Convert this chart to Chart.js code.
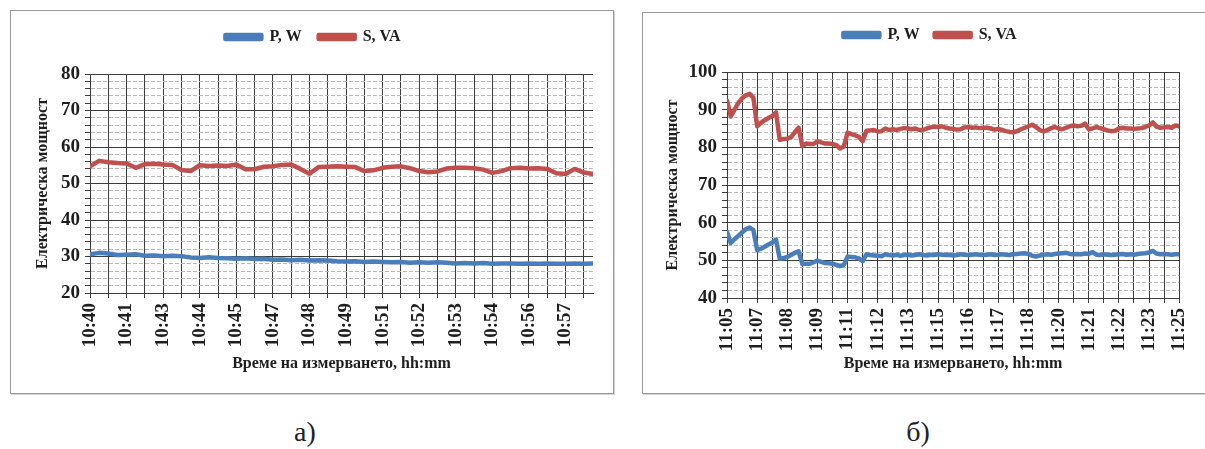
<!DOCTYPE html>
<html>
<head>
<meta charset="utf-8">
<script src="https://cdn.jsdelivr.net/npm/chart.js@4.4.1/dist/chart.umd.min.js"></script>
<style>
  body { margin: 0; width: 1205px; height: 449px; overflow: hidden; background: #fff; position: relative; }
  .frame { position: absolute; border: 1px solid #9a9a9a; box-shadow: 1px 1px 0 #d4d4d4; box-sizing: border-box; }
  canvas { position: absolute; }
  .cap { position: absolute; top: 416px; font-family: "Liberation Serif", serif; font-size: 28px; color: #222; width: 60px; text-align: center; }
</style>
</head>
<body>
<div class="frame" style="left:10px; top:10px; width:604px; height:384px;"></div>
<div class="frame" style="left:642px; top:12px; width:570px; height:382px;"></div>
<canvas id="chartA" width="603" height="383" style="left:10px; top:10px;"></canvas>
<canvas id="chartB" width="565" height="381" style="left:642px; top:12px;"></canvas>
<div class="cap" style="left:275px;">а)</div>
<div class="cap" style="left:888px;">б)</div>

<script>
// Етикети по оста X (всеки втори вертикален ред на мрежата)
const leftTimes = ['10:40', '10:41', '10:43', '10:44', '10:45', '10:47', '10:48',
    '10:49', '10:51', '10:52', '10:53', '10:54', '10:56', '10:57'];
const rightTimes = ['11:05', '11:07', '11:08', '11:09', '11:11', '11:12', '11:13', '11:15',
    '11:16', '11:17', '11:18', '11:20', '11:21', '11:22', '11:23', '11:25'];

// а) стъпка 0.5 деление
const leftStep = 0.5;
const leftS = [
    54.7, 56.2, 55.8, 55.6, 55.5, 54.3, 55.3, 55.4, 55.2, 55.1,
    53.7, 53.4, 55.0, 54.8, 54.9, 54.8, 55.2, 53.9, 53.9, 54.6,
    54.7, 55.1, 55.2, 54.0, 52.7, 54.5, 54.6, 54.7, 54.6, 54.5,
    53.4, 53.6, 54.3, 54.6, 54.7, 54.2, 53.4, 53.1, 53.3, 54.1,
    54.3, 54.3, 54.2, 53.8, 52.9, 53.4, 54.2, 54.3, 54.1, 54.2,
    54.0, 52.8, 52.6, 54.0, 53.0, 52.6
];
const leftP = [
    30.6, 31.0, 30.8, 30.4, 30.5, 30.6, 30.2, 30.3, 30.1, 30.2,
    30.1, 29.7, 29.6, 29.8, 29.6, 29.5, 29.4, 29.5, 29.3, 29.4,
    29.1, 29.2, 29.0, 29.1, 28.9, 29.0, 28.9, 28.7, 28.6, 28.7,
    28.5, 28.6, 28.5, 28.4, 28.5, 28.3, 28.4, 28.3, 28.4, 28.3,
    28.1, 28.2, 28.1, 28.2, 28.0, 28.1, 28.1, 28.0, 28.1, 28.0,
    28.1, 28.0, 28.0, 28.1, 28.0, 28.1
];

// б) стъпка 0.25 деление
const rightStep = 0.25;
const rightS = [
    92.4, 88.2, 90.0, 91.8,  93.0, 93.8, 94.2, 93.2,  85.6, 86.5, 87.2, 87.8,
    88.3, 89.3, 82.0, 82.2,  82.3, 82.7, 84.0, 85.2,  80.3, 81.0, 80.9, 80.9,
    81.6, 81.3, 81.0, 81.0,  80.9, 80.6, 79.7, 80.2,  83.9, 83.5, 83.2, 82.8,
    81.6, 84.4, 84.5, 84.6,  84.2, 84.3, 85.0, 84.6,  84.8, 84.6, 84.9, 85.1,
    85.0, 84.8, 85.0, 84.6,  84.6, 85.0, 85.3, 85.5,  85.4, 85.6, 85.2, 85.0,
    84.9, 84.7, 84.8, 85.3,  85.4, 85.2, 85.3, 85.1,  85.2, 85.2, 85.0, 84.7,
    84.9, 84.6, 84.3, 84.1,  84.0, 84.3, 84.8, 85.2,  85.6, 86.0, 85.4, 84.6,
    84.2, 84.6, 85.1, 85.4,  85.0, 84.8, 85.2, 85.6,  85.8, 85.6, 85.7, 86.3,
    84.8, 85.0, 85.4, 85.1,  84.8, 84.5, 84.3, 84.4,  85.0, 85.2, 85.0, 85.0,
    84.9, 85.0, 85.1, 85.4,  85.8, 86.6, 85.5, 85.2,  85.3, 85.4, 85.2, 85.8,
    85.6
];
const rightP = [
    57.5, 54.6, 55.6, 56.5,  57.4, 58.3, 58.7, 58.0,  52.7, 53.1, 53.6, 54.2,
    54.7, 55.5, 50.4, 50.6,  50.9, 51.4, 52.0, 52.4,  49.0, 49.1, 49.1, 49.5,
    49.9, 49.6, 49.3, 49.2,  49.1, 48.8, 48.5, 48.8,  51.0, 50.9, 50.8, 50.5,
    49.8, 51.6, 51.4, 51.3,  51.2, 51.1, 51.6, 51.4,  51.3, 51.5, 51.2, 51.4,
    51.5, 51.3, 51.4, 51.6,  51.4, 51.3, 51.5, 51.4,  51.6, 51.5, 51.4, 51.5,
    51.3, 51.4, 51.6, 51.5,  51.4, 51.5, 51.6, 51.5,  51.4, 51.5, 51.6, 51.4,
    51.5, 51.6, 51.5, 51.4,  51.6, 51.7, 51.8, 51.9,  51.7, 51.2, 51.0, 51.3,
    51.5, 51.6, 51.5, 51.7,  51.8, 51.9, 52.0, 51.7,  51.6, 51.7, 51.6, 51.8,
    51.7, 52.2, 51.5, 51.4,  51.6, 51.5, 51.4, 51.5,  51.6, 51.7, 51.5, 51.6,
    51.5, 51.7, 51.8, 51.9,  52.1, 52.5, 51.8, 51.6,  51.7, 51.6, 51.5, 51.6,
    51.6
];

const BLUE = '#4a7ebb';
const RED = '#c0504d';
const GRID = '#3c3c3c';
const MINOR = '#b8b8b8';
const TXT = '#1e1e1e';
const SERIF = '"Liberation Serif", "Times New Roman", serif';

const toPoints = (values, step) => values.map((v, i) => ({ x: i * step, y: v }));

// Допълнително място под легендата, за да слезе графиката надолу
const legendGap = {
    id: 'legendGap',
    beforeLayout(chart, args, opts) {
        const lg = chart.legend;
        if (lg && !lg._gapSet) {
            lg._gapSet = true;
            const origFit = lg.fit;
            lg.fit = function () {
                origFit.call(this);
                this.height += opts.extra || 0;
            };
        }
    }
};

function makeChart(id, o) {
    const ctx = document.getElementById(id).getContext('2d');
    return new Chart(ctx, {
        type: 'line',
        data: {
            datasets: [
                { label: 'P, W', data: toPoints(o.p, o.step), borderColor: BLUE, backgroundColor: BLUE },
                { label: 'S, VA', data: toPoints(o.s, o.step), borderColor: RED, backgroundColor: RED }
            ]
        },
        plugins: [legendGap],
        options: {
            responsive: false,
            animation: false,
            layout: { padding: { top: o.padTop, left: o.padLeft, right: o.padRight, bottom: 16 } },
            elements: {
                line: { borderWidth: 4.5, tension: 0, borderJoinStyle: 'round', borderCapStyle: 'round' },
                point: { radius: 0 }
            },
            plugins: {
                legendGap: { extra: o.gap },
                legend: {
                    position: 'top',
                    labels: {
                        boxWidth: 36, boxHeight: 4, padding: o.legendPad,
                        color: TXT, font: { family: SERIF, size: 16, weight: 'bold' }
                    }
                },
                tooltip: { enabled: false }
            },
            scales: {
                x: {
                    type: 'linear',
                    min: 0,
                    max: o.xMax,
                    afterBuildTicks: sc => { sc.ticks = sc.ticks.filter(t => Number.isInteger(t.value)); },
                    afterFit: sc => { sc.height = o.xHeight; },
                    ticks: {
                        stepSize: 1, includeBounds: false, autoSkip: false,
                        minRotation: 90, maxRotation: 90, padding: 5,
                        color: TXT, font: { family: SERIF, size: 19, weight: 'bold' },
                        callback: v => (v % 2 === 0 ? (o.times[v / 2] || '') : '')
                    },
                    grid: { color: GRID, lineWidth: 1, tickLength: 5, tickColor: GRID },
                    border: { color: GRID, width: 1 },
                    title: {
                        display: true, text: 'Време на измерването, hh:mm', color: TXT,
                        padding: { top: 0, bottom: 4 },
                        font: { family: SERIF, size: 16, weight: 'bold' }
                    }
                },
                y: {
                    min: o.yMin,
                    max: o.yMax,
                    afterFit: sc => { sc.width = o.yWidth; },
                    ticks: {
                        stepSize: 2, autoSkip: false, padding: 5,
                        color: TXT, font: { family: SERIF, size: 19, weight: 'bold' },
                        callback: v => (v % 10 === 0 ? v : '')
                    },
                    grid: {
                        color: c => (c.tick && c.tick.value % 10 !== 0 ? MINOR : GRID),
                        lineWidth: 1, tickLength: 5, tickColor: GRID
                    },
                    border: {
                        color: GRID, width: 1,
                        dash: c => (c.tick && c.tick.value % 10 !== 0 ? [4, 2] : [])
                    },
                    title: {
                        display: true, text: 'Електрическа мощност', color: TXT,
                        padding: { top: 0, bottom: 4 },
                        font: { family: SERIF, size: 16, weight: 'bold' }
                    }
                }
            }
        }
    });
}

// а)
makeChart('chartA', {
    p: leftP, s: leftS, step: leftStep, times: leftTimes,
    xMax: 27.5, yMin: 20, yMax: 80,
    padTop: 2, padLeft: 23, padRight: 20, legendPad: 17, gap: 19, xHeight: 84, yWidth: 57
});

// б)
makeChart('chartB', {
    p: rightP, s: rightS, step: rightStep, times: rightTimes,
    xMax: 30, yMin: 40, yMax: 100,
    padTop: 0, padLeft: 21, padRight: 10, legendPad: 15, gap: 19, xHeight: 79, yWidth: 64
});
</script>
</body>
</html>
